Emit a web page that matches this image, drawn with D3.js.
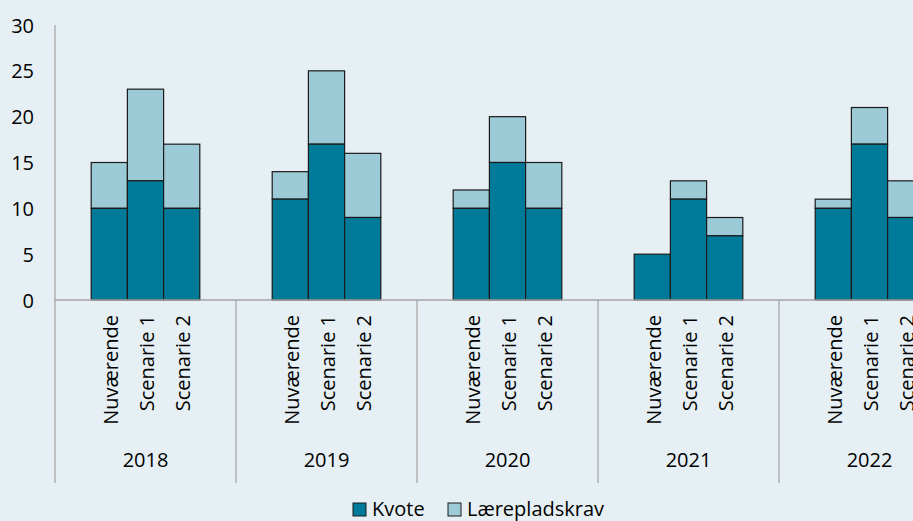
<!DOCTYPE html>
<html><head><meta charset="utf-8">
<script src="https://cdn.jsdelivr.net/npm/d3@7"></script>
<style>
html,body{margin:0;padding:0;background:#e6f0f4;overflow:hidden;}
text{font-family:"Open Sans","Noto Sans",sans-serif;fill:#000;}
</style></head>
<body>
<svg id="c" width="913" height="521"></svg>
<script>
const years = ["2018","2019","2020","2021","2022"];
const scenarios = ["Nuværende","Scenarie 1","Scenarie 2"];
const kvote = [10,13,10, 11,17,9, 10,15,10, 5,11,7, 10,17,9];
const laereplads = [5,10,7, 3,8,7, 2,5,5, 0,2,2, 1,4,4];
const yTicks = [0,5,10,15,20,25,30];
const seriesNames = ["Kvote","Lærepladskrav"];
const colors = ["#007a99","#9ccbd7"];

const svg = d3.select("#c");
const x0 = 55, groupW = 181;
const xYear = d3.scaleBand().domain(years).range([x0, x0 + groupW*years.length]).padding(0);
const xSc = d3.scaleBand().domain(scenarios).range([0, groupW]).paddingInner(0).paddingOuter(1);
const y = d3.scaleLinear().domain([0,30]).range([300,25]);

// y axis
svg.append("line").attr("x1",x0).attr("x2",x0).attr("y1",y(30)).attr("y2",483).attr("stroke","#a6a6a6").attr("stroke-width",1.3);
svg.selectAll(".yt").data(yTicks).enter().append("text")
  .attr("x",34).attr("y",d=>y(d)+7.5).attr("text-anchor","end").attr("font-size",20).text(d=>d);

// bars
const rows = [];
years.forEach((yr,i)=>scenarios.forEach((sc,j)=>{
  const k = kvote[i*3+j], l = laereplads[i*3+j];
  rows.push({yr,sc,k,l});
}));
const g = svg.append("g");
rows.forEach(r=>{
  const bx = xYear(r.yr) + xSc(r.sc), bw = xSc.bandwidth();
  if (r.l>0) g.append("rect").attr("x",bx).attr("width",bw).attr("y",y(r.k+r.l)).attr("height",y(r.k)-y(r.k+r.l))
    .attr("fill",colors[1]).attr("stroke","#1a1a1a").attr("stroke-width",1.2);
  g.append("rect").attr("x",bx).attr("width",bw).attr("y",y(r.k)).attr("height",y(0)-y(r.k))
    .attr("fill",colors[0]).attr("stroke","#1a1a1a").attr("stroke-width",1.2);
});

// x axis baseline & separators
svg.append("line").attr("x1",x0).attr("x2",x0+groupW*years.length).attr("y1",y(0)).attr("y2",y(0)).attr("stroke","#a6a6a6").attr("stroke-width",1.3);
years.forEach(yr=>{
  const xe = xYear(yr)+groupW;
  svg.append("line").attr("x1",xe).attr("x2",xe).attr("y1",y(0)).attr("y2",483).attr("stroke","#a6a6a6").attr("stroke-width",1.3);
  svg.append("text").attr("x",xYear(yr)+groupW/2).attr("y",467).attr("text-anchor","middle").attr("font-size",20).text(yr);
  scenarios.forEach(sc=>{
    const cx = xYear(yr)+xSc(sc)+xSc.bandwidth()/2;
    svg.append("text").attr("transform",`translate(${cx+8.5},315) rotate(-90)`)
      .attr("text-anchor","end").attr("font-size",20).text(sc);
  });
});

// legend
const leg = svg.append("g");
const legX = [353, 448];
seriesNames.forEach((n,i)=>{
  leg.append("rect").attr("x",legX[i]).attr("y",503).attr("width",13).attr("height",13)
    .attr("fill",colors[i]).attr("stroke","#1a1a1a").attr("stroke-width",1);
  leg.append("text").attr("x",legX[i]+19).attr("y",516).attr("font-size",20).text(n);
});
</script>
</body></html>
